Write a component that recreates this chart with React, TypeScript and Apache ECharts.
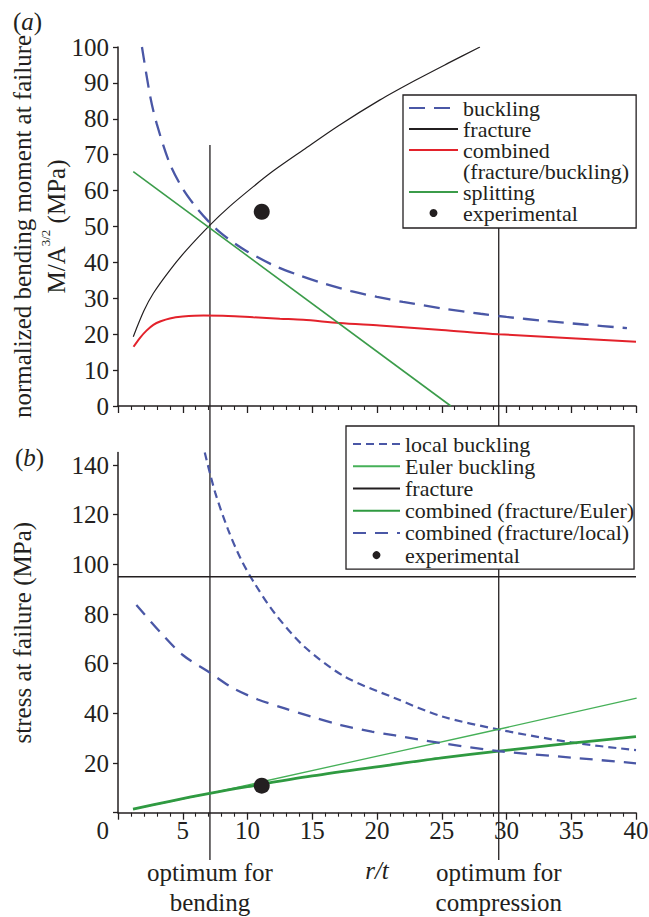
import React, { useEffect, useRef } from 'react';
import * as echarts from 'echarts';

const FONT = 'Liberation Serif, Times New Roman, serif';
const INK = '#231f20';
const BLUE = '#4a57a6';
const RED = '#e3222b';
const GREEN = '#3b9c4a';
const GREEN_LIGHT = '#46b058';
const GREEN_DARK = '#2f9a41';

// ---------- axis ticks ----------
const xTicks = [0, 5, 10, 15, 20, 25, 30, 35, 40];
const yTicksA = [0, 10, 20, 30, 40, 50, 60, 70, 80, 90, 100];
const yTicksB = [0, 20, 40, 60, 80, 100, 120, 140];

// ---------- panel (a): normalized bending moment ----------
const bucklingRtA = [1.85, 2.5, 3, 4, 5, 6, 7.1, 8, 9, 10, 12, 14, 16, 18, 20, 22, 25, 28, 30, 33, 36, 39.3];
const bucklingA = [100, 86, 78.5, 67.5, 60.5, 55.5, 51, 48, 45.3, 43, 39.2, 36.4, 34, 32, 30.4, 29, 27.2, 25.7, 24.8, 23.7, 22.7, 21.7];

const fractureRtA = [1.18, 2, 2.73, 4, 5.3, 7.1, 8.5, 10.45, 12, 14.3, 17, 20.2, 23, 25.5, 27.95];
const fractureA = [19.3, 26.5, 31.4, 37.8, 43.5, 50.4, 55.2, 61.1, 65.5, 71.3, 78, 85.2, 90.8, 95.5, 100];

const combinedRtA = [1.2, 1.7, 2.2, 2.73, 3.3, 4, 5, 6.6, 8.5, 10.45, 12.5, 14.3, 17.1, 20.2, 25, 29.4, 35, 40];
const combinedA = [16.5, 19, 21, 22.6, 23.6, 24.4, 24.9, 25.2, 25.1, 24.7, 24.3, 24.0, 23.1, 22.4, 21.2, 20.0, 18.9, 17.9];

const splittingRtA = [1.18, 25.7];
const splittingA = [65.3, 0];

const experimentalA = [[11.1, 54.1]];

// ---------- panel (b): stress at failure ----------
const localRtB = [6.7, 7.5, 8.5, 9.5, 10.55, 12.1, 14.4, 17.5, 21.4, 25, 29.4, 35, 40];
const localB = [145, 129, 114, 102, 92.3, 80.3, 66.8, 54.8, 46.1, 38.8, 33.5, 28.3, 25.2];

const eulerRtB = [1.16, 7.08, 21.6, 29.4, 40.05];
const eulerB = [1.4, 7.8, 24.6, 33.6, 46.1];

const fractureRtB = [0, 40];
const fractureB = [95, 95];

const combEulerRtB = [1.16, 4, 7.08, 10, 15, 21, 25, 29.4, 35, 40];
const combEulerB = [1.4, 4.6, 7.8, 10.5, 14.8, 19.2, 22.1, 24.8, 28.0, 30.6];

const combLocalRtB = [1.42, 3.35, 5, 7.08, 8.9, 10.8, 12.87, 14.9, 17.2, 19.6, 21.4, 25, 29.4, 35, 40];
const combLocalB = [83.6, 72.2, 63.5, 56.4, 50.1, 45.6, 42.0, 38.7, 35.3, 32.6, 31.1, 28.0, 24.8, 22.2, 19.9];

const experimentalB = [[11.1, 10.9]];

// ---------- optimum markers ----------
const optimumRt = [7.1, 29.4];
const optimumLabels = ['optimum for\nbending', 'optimum for\ncompression'];
const optimumTopA = [72.7, 50]; // panel (a) values where the lines start
const optimumBottomB = -19; // panel (b) value where the lines end

const zip = (xs: number[], ys: number[]) => xs.map((x, i) => [x, ys[i]]);

const txt = { fontFamily: FONT, color: INK, fontWeight: 'normal' as const };

function buildOption(): any {
  const xAxisBase = (grid: number, showLabels: boolean) => ({
    type: 'value',
    gridIndex: grid,
    min: 0,
    max: 40,
    interval: 5,
    axisLine: { onZero: false, lineStyle: { color: INK, width: 1.5 } },
    axisTick: { show: true, inside: false, length: 7, lineStyle: { color: INK, width: 1.3 } },
    minorTick: { show: true, splitNumber: 5, length: 4, lineStyle: { color: INK, width: 1.1 } },
    splitLine: { show: false },
    minorSplitLine: { show: false },
    axisLabel: {
      show: showLabels,
      ...txt,
      fontSize: 25,
      lineHeight: 25,
      margin: 5,
      customValues: xTicks,
      formatter: (v: number) => (v === 0 ? '' : String(v)),
    },
  });

  const panelTitle = (letter: string, left: number, top: number) => ({
    text: `{p|(}{i|${letter}}{p|)}`,
    left,
    top,
    padding: 0,
    textStyle: {
      ...txt,
      fontSize: 25,
      rich: {
        p: { ...txt, fontSize: 25, lineHeight: 25 },
        i: { ...txt, fontSize: 25, lineHeight: 25, fontStyle: 'italic' },
      },
    },
  });

  return {
    animation: false,
    backgroundColor: '#ffffff',
    title: [panelTitle('a', 13, 9), panelTitle('b', 15, 445)],
    grid: [
      { left: 118, top: 47, width: 518, height: 359, containLabel: false, outerBoundsMode: 'none' },
      { left: 118, top: 452.6, width: 518, height: 360.1, containLabel: false, outerBoundsMode: 'none' },
    ],
    xAxis: [
      xAxisBase(0, false),
      {
        ...xAxisBase(1, true),
        name: 'r/t',
        nameLocation: 'middle',
        nameGap: 45,
        nameMoveOverlap: false,
        nameTextStyle: { ...txt, fontSize: 25, lineHeight: 25, fontStyle: 'italic' },
      },
    ],
    yAxis: [
      {
        type: 'value',
        gridIndex: 0,
        min: 0,
        max: 100,
        interval: 10,
        axisLine: { show: true, onZero: false, lineStyle: { color: INK, width: 1.5 } },
        axisTick: { show: true, length: 5, lineStyle: { color: INK, width: 1.3 } },
        splitLine: { show: false },
        axisLabel: { ...txt, fontSize: 25, lineHeight: 25, margin: 9, customValues: yTicksA },
        name: '{t|normalized bending moment at failure}\n{t|M/A}{s|3/2}{t| (MPa)}',
        nameLocation: 'middle',
        nameRotate: 90,
        nameGap: 45,
        nameMoveOverlap: false,
        nameTextStyle: {
          ...txt,
          fontSize: 25,
          lineHeight: 34,
          rich: {
            t: { ...txt, fontSize: 25, lineHeight: 34 },
            s: { ...txt, fontSize: 13, lineHeight: 11, verticalAlign: 'top' },
          },
        },
      },
      {
        type: 'value',
        gridIndex: 1,
        min: 0,
        max: 145,
        axisLine: { show: true, onZero: false, lineStyle: { color: INK, width: 1.5 } },
        axisTick: { show: true, length: 5, customValues: yTicksB, lineStyle: { color: INK, width: 1.3 } },
        splitLine: { show: false },
        axisLabel: {
          ...txt,
          fontSize: 25,
          lineHeight: 25,
          margin: 9,
          customValues: yTicksB,
          formatter: (v: number) => (v === 0 ? '{z|0}' : String(v)),
          rich: { z: { ...txt, fontSize: 25, lineHeight: 25, padding: [36, 0, 0, 0] } },
        },
        name: 'stress at failure (MPa)',
        nameLocation: 'middle',
        nameRotate: 90,
        nameGap: 83,
        nameMoveOverlap: false,
        nameTextStyle: { ...txt, fontSize: 25, lineHeight: 25 },
      },
    ],
    legend: [
      {
        orient: 'vertical',
        left: 403,
        top: 95,
        padding: [2, 7, 4, 5],
        itemGap: -1,
        itemWidth: 49,
        itemHeight: 8,
        selectedMode: false,
        backgroundColor: '#ffffff',
        borderColor: INK,
        borderWidth: 1.3,
        z: 6,
        textStyle: { ...txt, fontSize: 22, lineHeight: 21 },
        data: [
          { name: 'buckling', itemStyle: { opacity: 0 } },
          { name: 'fracture', itemStyle: { opacity: 0 } },
          { name: 'combined', itemStyle: { opacity: 0 } },
          { name: '(fracture/buckling)', itemStyle: { opacity: 0 }, lineStyle: { opacity: 0 } },
          { name: 'splitting', itemStyle: { opacity: 0 } },
          { name: 'experimental', icon: 'circle', itemStyle: { color: INK, opacity: 1 } },
        ],
      },
      {
        orient: 'vertical',
        left: 346,
        top: 426,
        padding: [7, 0, 3, 6],
        itemGap: 0,
        itemWidth: 47,
        itemHeight: 8,
        selectedMode: false,
        backgroundColor: '#ffffff',
        borderColor: INK,
        borderWidth: 1.3,
        z: 6,
        textStyle: { ...txt, fontSize: 22, lineHeight: 22.2 },
        data: [
          { name: 'local buckling', itemStyle: { opacity: 0 } },
          { name: 'Euler buckling', itemStyle: { opacity: 0 } },
          { name: 'fracture', itemStyle: { opacity: 0 } },
          { name: 'combined (fracture/Euler)', itemStyle: { opacity: 0 } },
          { name: 'combined (fracture/local)', itemStyle: { opacity: 0 } },
          { name: 'experimental', icon: 'circle', itemStyle: { color: INK, opacity: 1 } },
        ],
      },
    ],
    series: [
      // panel (a)
      {
        name: 'buckling', type: 'line', xAxisIndex: 0, yAxisIndex: 0, symbol: 'none', smooth: 0.3,
        data: zip(bucklingRtA, bucklingA),
        lineStyle: { color: BLUE, width: 2.3, type: [16, 9] }, itemStyle: { color: BLUE },
      },
      {
        name: 'fracture', type: 'line', xAxisIndex: 0, yAxisIndex: 0, symbol: 'none', smooth: 0.3,
        data: zip(fractureRtA, fractureA),
        lineStyle: { color: INK, width: 1.2 }, itemStyle: { color: INK },
      },
      {
        name: 'combined', type: 'line', xAxisIndex: 0, yAxisIndex: 0, symbol: 'none', smooth: 0.3,
        data: zip(combinedRtA, combinedA),
        lineStyle: { color: RED, width: 2 }, itemStyle: { color: RED },
      },
      {
        name: '(fracture/buckling)', type: 'line', xAxisIndex: 0, yAxisIndex: 0, symbol: 'none',
        data: [], lineStyle: { color: '#ffffff', width: 0, opacity: 0 }, itemStyle: { color: '#ffffff', opacity: 0 },
      },
      {
        name: 'splitting', type: 'line', xAxisIndex: 0, yAxisIndex: 0, symbol: 'none',
        data: zip(splittingRtA, splittingA),
        lineStyle: { color: GREEN, width: 1.6 }, itemStyle: { color: GREEN },
      },
      {
        name: 'experimental', type: 'scatter', xAxisIndex: 0, yAxisIndex: 0, symbol: 'circle', symbolSize: 16,
        data: experimentalA, itemStyle: { color: INK, opacity: 1 }, z: 5,
      },
      // panel (b)
      {
        name: 'local buckling', type: 'line', xAxisIndex: 1, yAxisIndex: 1, symbol: 'none', smooth: 0.3,
        data: zip(localRtB, localB),
        lineStyle: { color: BLUE, width: 2.2, type: [8, 5] }, itemStyle: { color: BLUE },
      },
      {
        name: 'Euler buckling', type: 'line', xAxisIndex: 1, yAxisIndex: 1, symbol: 'none',
        data: zip(eulerRtB, eulerB),
        lineStyle: { color: GREEN_LIGHT, width: 1.3 }, itemStyle: { color: GREEN_LIGHT },
      },
      {
        name: 'fracture', type: 'line', xAxisIndex: 1, yAxisIndex: 1, symbol: 'none',
        data: zip(fractureRtB, fractureB),
        lineStyle: { color: INK, width: 1.5 }, itemStyle: { color: INK },
      },
      {
        name: 'combined (fracture/Euler)', type: 'line', xAxisIndex: 1, yAxisIndex: 1, symbol: 'none', smooth: 0.3,
        data: zip(combEulerRtB, combEulerB),
        lineStyle: { color: GREEN_DARK, width: 2.8 }, itemStyle: { color: GREEN_DARK },
      },
      {
        name: 'combined (fracture/local)', type: 'line', xAxisIndex: 1, yAxisIndex: 1, symbol: 'none', smooth: 0.3,
        data: zip(combLocalRtB, combLocalB),
        lineStyle: { color: BLUE, width: 2.3, type: [13, 9] }, itemStyle: { color: BLUE },
      },
      {
        name: 'experimental', type: 'scatter', xAxisIndex: 1, yAxisIndex: 1, symbol: 'circle', symbolSize: 16,
        data: experimentalB, itemStyle: { color: INK, opacity: 1 }, z: 5,
      },
    ],
  };
}

export default function App() {
  const ref = useRef<HTMLDivElement>(null);

  useEffect(() => {
    if (!ref.current) return;
    const chart = echarts.init(ref.current, null, { renderer: 'svg' });
    const option = buildOption();
    chart.setOption(option);

    // pixel ends of the "optimum" lines, computed through the axes' own scales
    const ends = optimumRt.map((rt, i) => ({
      x: chart.convertToPixel({ xAxisIndex: 1 }, rt) as number,
      yTop: chart.convertToPixel({ yAxisIndex: 0 }, optimumTopA[i]) as number,
      yBot: chart.convertToPixel({ yAxisIndex: 1 }, optimumBottomB) as number,
    }));

    chart.setOption({
      series: [
        ...option.series,
        {
          name: 'optimum',
          type: 'custom',
          xAxisIndex: 1,
          yAxisIndex: 1,
          clip: false,
          silent: true,
          z: 1,
          data: optimumRt.map((rt) => [rt, 0]),
          renderItem: (params: any) => {
            const e = ends[params.dataIndex];
            return {
              type: 'group',
              children: [
                {
                  type: 'line',
                  shape: { x1: e.x, y1: e.yTop, x2: e.x, y2: e.yBot },
                  style: { stroke: INK, lineWidth: 1.3 },
                },
                {
                  type: 'text',
                  x: e.x,
                  y: e.yBot - 2,
                  style: {
                    text: optimumLabels[params.dataIndex],
                    fontFamily: FONT,
                    fontSize: 25,
                    lineHeight: 30,
                    align: 'center',
                    verticalAlign: 'top',
                    fill: INK,
                  },
                },
              ],
            };
          },
        },
      ],
    });

    return () => chart.dispose();
  }, []);

  return (
    <div
      ref={ref}
      style={{ position: 'fixed', left: 0, top: 0, width: 649, height: 917, background: '#fff' }}
    />
  );
}
